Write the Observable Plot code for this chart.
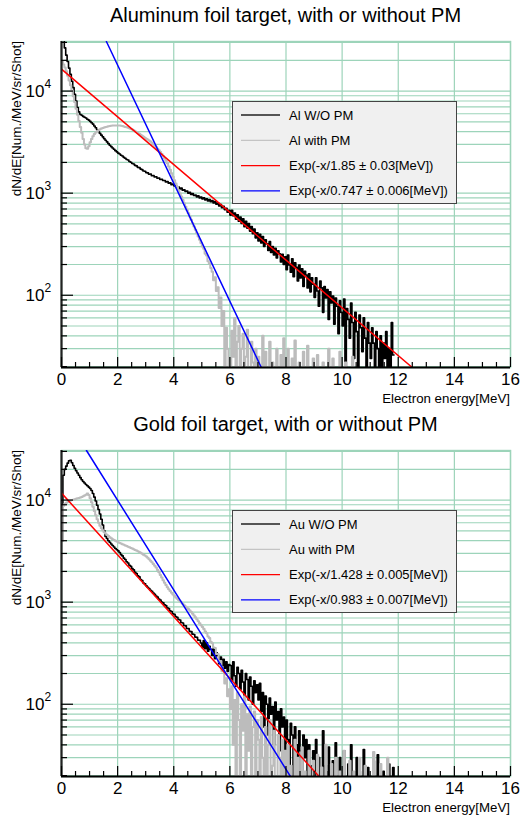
<!DOCTYPE html>
<html><head><meta charset="utf-8">
<script src="https://cdn.jsdelivr.net/npm/d3@7"></script>
<script src="https://cdn.jsdelivr.net/npm/@observablehq/plot@0.6"></script>
<style>
body{margin:0;background:#fff;}
#chart{width:528px;height:818px;}
svg{display:block}
</style></head><body><div id="chart"></div>
<script>
// ---------------- data (dN/dE per 0.05 MeV bin, starting at 0 MeV) ----------------
const binWidth = 0.05;

const alWithout = [
 40000,33000,26500,22500,19500,16800,14600,12500,10800,9300,8000,6900,6250,5900,5800,5650,5550,5450,5300,5200,
 5050,4900,4750,4550,4380,4180,4020,3850,3700,3560,3420,3300,3180,3060,2950,2860,2770,2690,2610,2540,
 2470,2420,2350,2310,2240,2200,2140,2110,2040,2010,1950,1930,1870,1850,1790,1780,1720,1700,1650,1640,
 1590,1580,1530,1540,1480,1490,1440,1450,1400,1410,1360,1370,1330,1330,1290,1300,1250,1260,1210,1230,
 1180,1190,1140,1150,1100,1120,1070,1080,1040,1050,1000,1020,970,990,950,960,920,940,900,915,
 880,900,860,880,840,865,825,845,800,830,780,800,750,775,720,745,690,710,650,680,
 610,680,600,640,555,615,530,585,505,560,470,530,455,505,425,470,400,445,365,410,
 340,395,325,375,300,350,320,275,335,262,300,248,288,232,272,255,212,252,200,238,
 178,248,198,168,228,152,208,188,138,198,148,182,122,172,158,118,162,108,148,128,
 95,148,110,78,138,118,68,122,94,114,58,108,84,98,52,94,78,42,88,68,
 50,92,0,74,58,38,84,54,24,68,44,0,64,48,28,60,38,0,54,34,
 24,48,34,0,44,30,0,40,0,34,24,44,0,30,0,54,26
];
const alWith = [
 19500,18200,17000,15600,14100,12700,11400,10100,8900,7800,6700,5850,5100,4450,3900,3400,3000,2760,2720,2880,
 3150,3400,3620,3790,3930,4040,4140,4220,4290,4350,4400,4440,4480,4520,4550,4570,4590,4600,4610,4610,
 4600,4590,4570,4540,4500,4460,4420,4370,4320,4260,4200,4130,4050,3970,3890,3810,3730,3650,3570,3490,
 3420,3350,3280,3200,3110,3020,2930,2830,2730,2630,2530,2420,2310,2200,2080,1960,1830,1700,1570,1450,
 1340,1245,1155,1070,995,925,858,796,738,685,636,590,548,508,472,438,406,377,350,325,
 300,285,255,245,215,205,185,170,140,150,110,120,75,95,50,70,0,48,30,0,
 0,45,25,60,0,35,50,0,30,42,0,25,46,0,0,35,22,0,30,0,
 25,0,0,40,0,28,0,0,35,0,22,0,0,30,0,0,26,0,38,0,
 0,30,0,0,24,0,36,0,0,22,0,0,28,0,0,32,0,0,0,24,
 0,0,26,0,0,0,22,0,0,0,30,0,0,24,0,0,0,0,28,0,
 0,0,22,0,0,0,0,25,0,0
];
const auWithout = [
 4000,17500,20000,21500,23000,24300,24500,23200,21800,20500,19400,18400,17500,16600,15800,15200,14700,14200,13800,13400,
 13000,12400,11600,10700,9800,8900,8100,7300,6500,5700,5000,4400,4200,4000,3860,3720,3590,3470,3360,3260,
 3180,3070,2920,2840,2700,2620,2490,2420,2300,2240,2130,2070,1960,1910,1810,1770,1670,1630,1540,1510,
 1450,1400,1360,1310,1275,1225,1195,1150,1120,1075,1050,1005,985,940,925,880,865,825,810,770,
 760,725,712,676,668,632,625,590,586,552,550,518,515,486,482,455,452,425,424,398,
 360,420,350,400,330,370,345,300,350,280,320,300,250,290,240,275,225,260,210,245,
 240,170,260,190,150,230,200,140,215,165,120,200,175,110,185,150,100,170,130,155,
 110,160,85,130,60,120,100,50,115,80,95,40,105,70,85,35,90,60,75,30,
 70,45,25,65,50,0,60,40,20,55,35,0,50,30,45,0,40,25,0,35,
 0,45,0,30,0,0,55,0,25,0,38,0,0,28,0,42,0,0,30,0,
 0,35,0,0,26,0,40,0,0,0,30,0,22,0,0,36,0,0,24,0,
 0,0,28,0,0,32,0,0,0,22,0,0,0,26,0,0,24,0
];
const auWith = [
 4000,8800,9200,9400,9600,9800,9900,10000,10100,10200,10300,10400,10500,10600,10700,10900,11100,11300,11600,11200,
 10400,9500,8600,7800,7100,6500,6000,5600,5300,5050,4850,4700,4560,4440,4330,4230,4140,4060,3990,3920,
 3860,3800,3750,3700,3650,3600,3550,3500,3450,3400,3350,3300,3250,3200,3150,3100,3040,2980,2920,2860,
 2800,2720,2640,2550,2460,2370,2280,2180,2070,1960,1850,1740,1640,1550,1470,1400,1340,1290,1240,1190,
 1150,1110,1080,1050,1020,990,960,935,905,880,855,830,800,770,740,710,680,650,620,595,
 570,545,515,495,460,445,410,395,360,355,310,310,260,265,210,215,160,180,120,140,
 90,150,40,110,0,130,70,0,100,55,120,0,80,35,95,0,60,85,0,70,
 45,0,75,30,0,60,0,40,70,0,25,55,0,0,50,30,0,45,0,35,
 0,40,0,25,0,0,45,0,30,0,0,38,0,22,0,0,35,0,0,28,
 0,0,32,0,0,24,0,0,40,0,0,0,26,0,0,30,0,0,22,0,
 0,35,0,0,0,28,0,0,22,0,0,0,30,0,0,0,25,0,0,0,
 0,0,34,0,0,0,0,26,0,0,0,0,30,0,0,0,0,0,0,0
];

// fit lines, endpoints (energy MeV, dN/dE)
const alFitRedX = [0, 12.5],   alFitRedY = [16400, 19.6];
const alFitBlueX = [1.6, 7.12], alFitBlueY = [30600, 19.6];
const auFitRedX = [0, 9.18],   auFitRedY = [11700, 19.6];
const auFitBlueX = [0.89, 8.16], auFitBlueY = [30600, 19.6];

// axes
const xDomain = [0, 16];
const yDomain = [19.6, 30600];
const xTicks = [0, 2, 4, 6, 8, 10, 12, 14, 16];
const xMinorTicks = [0.5,1,1.5,2.5,3,3.5,4.5,5,5.5,6.5,7,7.5,8.5,9,9.5,10.5,11,11.5,12.5,13,13.5,14.5,15,15.5];
const yMajorTicks = [100, 1000, 10000];
const yMajorExp = ["2", "3", "4"];
const yMinorTicks = [20,30,40,50,60,70,80,90,200,300,400,500,600,700,800,900,
  2000,3000,4000,5000,6000,7000,8000,9000,20000,30000];

const titles = ["Aluminum foil target, with or without PM", "Gold foil target, with or without PM"];
const legendLabels = [
  ["Al W/O PM", "Al with PM", "Exp(-x/1.85 \u00b1 0.03[MeV])", "Exp(-x/0.747 \u00b1 0.006[MeV])"],
  ["Au W/O PM", "Au with PM", "Exp(-x/1.428 \u00b1 0.005[MeV])", "Exp(-x/0.983 \u00b1 0.007[MeV])"]
];
const yTitle = "dN/dE[Num./MeV/sr/Shot]";
const xTitle = "Electron energy[MeV]";

// ---------------- drawing ----------------
const FONT = "'Liberation Sans', Arial, Helvetica, sans-serif";
const GRID = "#9dd4ba";
const HIST_BLACK = "#000000", HIST_GRAY = "#bcbcbc";
const W = 528, H = 409, ML = 61, MR = 18, MT = 41, MB = 42;
const FW = W - ML - MR, FH = H - MT - MB;

function hist(vals) {
  const pts = vals.map((v, i) => ({x: i * binWidth, y: v > 0 ? v : 1}));
  pts.push({x: vals.length * binWidth, y: pts[pts.length - 1].y});
  return pts;
}
function fit(xs, ys) { return xs.map((x, i) => ({x, y: ys[i]})); }

function panel(idx, black, gray, redX, redY, blueX, blueY) {
  const svg = Plot.plot({
    width: W, height: H, marginLeft: ML, marginRight: MR, marginTop: MT, marginBottom: MB,
    style: {fontFamily: FONT, background: "white", overflow: "visible", color: "#000"},
    x: {domain: xDomain, axis: null},
    y: {type: "log", domain: yDomain, axis: null},
    marks: [
      Plot.ruleY(yMinorTicks.concat(yMajorTicks), {stroke: GRID, strokeWidth: 1.2}),
      Plot.ruleX(xTicks, {stroke: GRID, strokeWidth: 1.2}),
      Plot.frame({stroke: GRID, strokeWidth: 1.4}),
      Plot.line(hist(black), {x: "x", y: "y", curve: "step-after", stroke: HIST_BLACK, strokeWidth: 1.6, clip: true}),
      Plot.line(hist(gray), {x: "x", y: "y", curve: "step-after", stroke: HIST_GRAY, strokeWidth: 2, clip: true}),
      Plot.line(fit(redX, redY), {x: "x", y: "y", stroke: "#ff0000", strokeWidth: 1.5, clip: true}),
      Plot.line(fit(blueX, blueY), {x: "x", y: "y", stroke: "#0000ff", strokeWidth: 1.5, clip: true}),
      // axis lines
      Plot.ruleX([xDomain[0]], {stroke: "#222", strokeWidth: 2.2}),
      Plot.ruleY([yDomain[0]], {stroke: "#000", strokeWidth: 2}),
      // ticks (inside)
      Plot.ruleX(xTicks, {stroke: "#000", strokeWidth: 1.2, insetTop: FH - 10}),
      Plot.ruleX(xMinorTicks, {stroke: "#000", strokeWidth: 1.2, insetTop: FH - 5}),
      Plot.ruleY(yMajorTicks, {stroke: "#000", strokeWidth: 1.2, insetRight: FW - 12}),
      Plot.ruleY(yMinorTicks, {stroke: "#000", strokeWidth: 1.2, insetRight: FW - 6}),
      // tick labels
      Plot.text(xTicks, {x: d => d, frameAnchor: "bottom", dy: 12, text: d => String(d), fontSize: 17, lineAnchor: "middle", fill: "#000"}),
      Plot.text(yMajorTicks, {y: d => d, frameAnchor: "left", dx: -17, text: () => "10", fontSize: 17, textAnchor: "end", lineAnchor: "middle", fill: "#000"}),
      Plot.text(yMajorTicks, {y: d => d, frameAnchor: "left", dx: -17, dy: -7, text: (d, i) => yMajorExp[i], fontSize: 12, textAnchor: "start", lineAnchor: "middle", fill: "#000"})
    ]
  });
  const s = d3.select(svg);
  s.append("text").attr("x", (ML + W - MR) / 2).attr("y", 15).attr("dy", "0.35em")
    .attr("text-anchor", "middle").attr("font-size", 20).attr("fill", "#000").text(titles[idx]);
  s.append("text").attr("transform", `translate(16,${MT}) rotate(-90)`).attr("dy", "0.35em")
    .attr("text-anchor", "end").attr("font-size", 13.5).attr("fill", "#000").text(yTitle);
  s.append("text").attr("x", W - MR).attr("y", 398).attr("dy", "0.35em")
    .attr("text-anchor", "end").attr("font-size", 13.3).attr("fill", "#000").text(xTitle);
  // legend
  const g = s.append("g");
  g.append("rect").attr("x", 232.5).attr("y", 101.5).attr("width", 224).attr("height", 102)
    .attr("fill", "#f0f0f0").attr("stroke", "#444").attr("stroke-width", 1);
  const cols = ["#222", "#c4c4c4", "#ff0000", "#0000ff"];
  legendLabels[idx].forEach((lab, i) => {
    const y = 115 + i * 25.3;
    g.append("line").attr("x1", 241).attr("x2", 280).attr("y1", y).attr("y2", y)
      .attr("stroke", cols[i]).attr("stroke-width", 1.3);
    g.append("text").attr("x", 289).attr("y", y).attr("dy", "0.35em").attr("font-size", 13)
      .attr("text-anchor", "start").attr("fill", "#000").text(lab);
  });
  return svg;
}

const root = document.getElementById("chart");
root.appendChild(panel(0, alWithout, alWith, alFitRedX, alFitRedY, alFitBlueX, alFitBlueY));
root.appendChild(panel(1, auWithout, auWith, auFitRedX, auFitRedY, auFitBlueX, auFitBlueY));
</script>
</body></html>
